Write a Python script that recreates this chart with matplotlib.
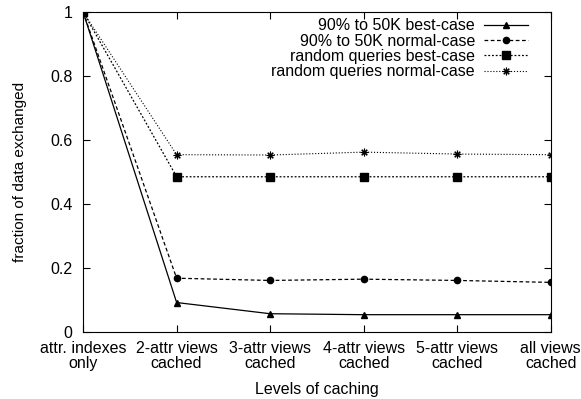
import numpy as np
import matplotlib
matplotlib.use("Agg")
import matplotlib.pyplot as plt

plt.rcParams['font.family'] = ['Liberation Sans', 'DejaVu Sans']

# caching levels along the x axis
levels = ["attr. indexes\nonly", "2-attr views\ncached", "3-attr views\ncached",
          "4-attr views\ncached", "5-attr views\ncached", "all views\ncached"]

# fraction of data exchanged
best_90 = [1.0, 0.092, 0.057, 0.054, 0.054, 0.054]
normal_90 = [1.0, 0.168, 0.161, 0.165, 0.161, 0.155]
best_rand = [1.0, 0.485, 0.485, 0.485, 0.485, 0.485]
normal_rand = [1.0, 0.554, 0.553, 0.562, 0.556, 0.554]

x = np.arange(len(levels))

fig = plt.figure(figsize=(5.81, 3.99), dpi=100)
ax = fig.add_axes([0.143, 0.168, 0.805, 0.802])

ax.plot(x, best_90, '-', color='black', lw=0.9, marker='^', ms=4,
        label="90% to 50K best-case")
ax.plot(x, normal_90, '--', color='black', lw=0.9, marker='o', ms=4.5,
        dashes=(3, 2), label="90% to 50K normal-case")
ax.plot(x, best_rand, '--', color='black', lw=0.9, marker='s', ms=5.5,
        dashes=(1.5, 1.5), label="random queries best-case")
ax.plot(x, normal_rand, ':', color='black', lw=0.8, marker=(8, 2, 0), ms=5.5,
        mew=0.8, label="random queries normal-case")

ax.set_xlim(0, 5)
ax.set_ylim(0, 1)
ax.set_xticks(x)
ax.set_xticklabels(levels, fontsize=11.5, linespacing=1.0)
ax.set_yticks([0, 0.2, 0.4, 0.6, 0.8, 1])
ax.set_yticklabels(["0", "0.2", "0.4", "0.6", "0.8", "1"], fontsize=11.5)
ax.tick_params(direction='in', top=True, right=True, length=5, width=0.8)
ax.tick_params(axis='x', pad=6.5)
ax.tick_params(axis='y', pad=7.5)
for s in ax.spines.values():
    s.set_linewidth(0.8)

ax.set_xlabel("Levels of caching", fontsize=11.5, labelpad=8)
ax.set_ylabel("fraction of data exchanged", fontsize=11, labelpad=17)

ax.legend(loc='upper right', frameon=False, markerfirst=False, fontsize=11.5,
          handlelength=2.8, handletextpad=0.55, labelspacing=0.02,
          borderaxespad=0.0, bbox_to_anchor=(0.966, 1.0), numpoints=1)

fig.savefig("out.png", dpi=100)
